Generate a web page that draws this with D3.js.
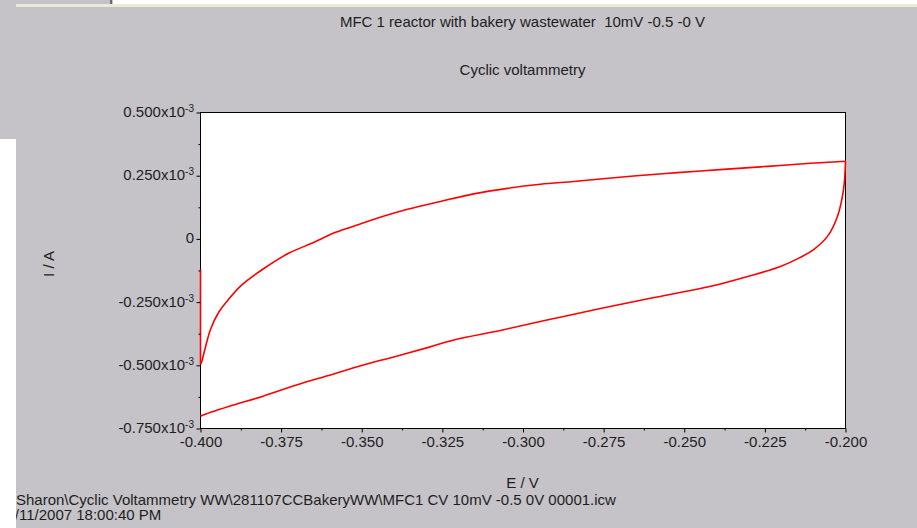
<!DOCTYPE html>
<html>
<head>
<meta charset="utf-8">
<script src="https://cdn.jsdelivr.net/npm/d3@7"></script>
<style>
  html, body { margin: 0; padding: 0; background: #c5c3c8; }
  svg { display: block; font-family: "Liberation Sans", Arial, sans-serif; }
</style>
</head>
<body>
<svg id="chart" width="917" height="528"></svg>
<script>
// ── Data ──────────────────────────────────────────────────────────────────────
const TITLE    = "MFC 1 reactor with bakery wastewater  10mV -0.5 -0 V";
const SUBTITLE = "Cyclic voltammetry";
const X_LABEL  = "E / V";
const Y_LABEL  = "I / A";
const FOOTER_1 = "Sharon\\Cyclic Voltammetry WW\\281107CCBakeryWW\\MFC1 CV 10mV -0.5 0V 00001.icw";
const FOOTER_2 = "28/11/2007 18:00:40 PM";

const X_TICKS = [-0.400, -0.375, -0.350, -0.325, -0.300, -0.275, -0.250, -0.225, -0.200];
const Y_TICKS = [-0.750, -0.500, -0.250, 0, 0.250, 0.500];   // x10^-3 A

// start of scan at -0.4 V (current spike), 10^-3 A
const E_START = [-0.4000, -0.4000, -0.4000];
const I_START = [-0.123, -0.310, -0.498];

// forward scan (-0.4 V -> -0.2 V)
const E_FWD = [-0.4000, -0.3997, -0.3984, -0.3969, -0.3944, -0.3913, -0.3870, -0.3808,
               -0.3727, -0.3653, -0.3581, -0.3519, -0.3464, -0.3358, -0.3256, -0.3153, -0.3048, -0.2946,
               -0.2843, -0.2760, -0.2657, -0.2521, -0.2378, -0.2242, -0.2109, -0.2000];
const I_FWD = [-0.498, -0.490, -0.427, -0.360, -0.293, -0.241, -0.182, -0.123,
               -0.059, -0.018, 0.024, 0.051, 0.075, 0.115, 0.146, 0.176, 0.198, 0.214,
               0.225, 0.235, 0.247, 0.260, 0.273, 0.285, 0.297, 0.305];

// reverse scan (-0.2 V -> -0.4 V)
const E_REV = [-0.2000, -0.2006, -0.2025, -0.2056, -0.2099, -0.2140, -0.2202, -0.2295, -0.2388, -0.2450, -0.2605,
               -0.2760, -0.2915, -0.3070, -0.3209, -0.3293, -0.3395, -0.3498, -0.3603, -0.3705, -0.3808,
               -0.3913, -0.3994, -0.4000];
const I_REV = [0.305, 0.194, 0.087, 0.008, -0.044, -0.075, -0.111, -0.148, -0.180, -0.198, -0.237,
               -0.277, -0.320, -0.364, -0.400, -0.431, -0.467, -0.502, -0.542, -0.581, -0.625,
               -0.665, -0.700, -0.704];

// ── Layout ────────────────────────────────────────────────────────────────────
const plot = { left: 200, right: 845, top: 112, bottom: 428 };
const TEXT = "#1e1e1e";
const FS   = 15;

const svg = d3.select("#chart");

// window chrome bits of the screenshot
svg.append("rect").attr("x", 113).attr("y", 0).attr("width", 804).attr("height", 4).attr("fill", "#fff");
svg.append("rect").attr("x", 110).attr("y", 0).attr("width", 2).attr("height", 4).attr("fill", "#6a6a6a");
svg.append("rect").attr("x", 16).attr("y", 4).attr("width", 901).attr("height", 3).attr("fill", "#ece9d8");
svg.append("rect").attr("x", 0).attr("y", 139).attr("width", 16).attr("height", 389).attr("fill", "#fff");

// ── Scales ────────────────────────────────────────────────────────────────────
const x = d3.scaleLinear().domain([-0.4, -0.2]).range([plot.left, plot.right]);
const y = d3.scaleLinear().domain([-0.75, 0.5]).range([plot.bottom, plot.top]);

// plot frame
svg.append("rect")
  .attr("x", plot.left + 0.5).attr("y", plot.top + 0.5)
  .attr("width", plot.right - plot.left).attr("height", plot.bottom - plot.top)
  .attr("fill", "#fff").attr("stroke", "#000").attr("stroke-width", 1);

// ── Curve ─────────────────────────────────────────────────────────────────────
const zip = (es, is) => es.map((e, i) => [e, is[i]]);
const lineP = d3.line().x(d => x(d[0]) + 0.5).y(d => y(d[1])).curve(d3.curveCatmullRom.alpha(0.5));
[zip(E_START, I_START), zip(E_FWD, I_FWD), zip(E_REV, I_REV)].forEach(seg => {
  svg.append("path")
    .datum(seg)
    .attr("d", lineP)
    .attr("fill", "none").attr("stroke", "#ff0000").attr("stroke-width", 1.6)
    .attr("stroke-linejoin", "round");
});

// ── Axes ──────────────────────────────────────────────────────────────────────
const minorX = d3.range(8).map(i => X_TICKS[i] + 0.0125);
const minorY = d3.range(5).map(i => Y_TICKS[i] + 0.125);

const xAxisG = svg.append("g").attr("transform", `translate(0.5,${plot.bottom + 0.5})`);
xAxisG.call(d3.axisBottom(x).tickValues(X_TICKS).tickSize(4).tickSizeOuter(0).tickFormat(d3.format(".3f")));
xAxisG.selectAll("text")
  .attr("y", 8).attr("dy", "0.71em")
  .attr("fill", TEXT).style("font-size", FS + "px").style("font-family", "Liberation Sans, Arial, sans-serif")
  .text(d => d3.format(".3f")(d).replace("\u2212", "-"));
xAxisG.append("g").call(d3.axisBottom(x).tickValues(minorX).tickSize(2).tickFormat(""));
xAxisG.selectAll(".domain").remove();
xAxisG.selectAll("line").attr("stroke", "#000");

const yAxisG = svg.append("g").attr("transform", `translate(${plot.left + 0.5},0.5)`);
yAxisG.call(d3.axisLeft(y).tickValues(Y_TICKS).tickSize(4).tickSizeOuter(0).tickFormat(""));
yAxisG.append("g").call(d3.axisLeft(y).tickValues(minorY).tickSize(2).tickFormat(""));
yAxisG.selectAll(".domain").remove();
yAxisG.selectAll("line").attr("stroke", "#000");

// y tick labels with x10^-3 superscript
const yLab = svg.append("g")
  .attr("fill", TEXT).style("font-size", FS + "px");
Y_TICKS.forEach(v => {
  const t = yLab.append("text")
    .attr("x", plot.left - 6).attr("y", y(v) + 5)
    .attr("text-anchor", "end");
  if (v === 0) { t.text("0"); return; }
  t.append("tspan").text(d3.format(".3f")(v).replace("\u2212", "-") + "x10");
  t.append("tspan").attr("dy", -5).style("font-size", "10px").text("-3");
});

// ── Titles & labels ───────────────────────────────────────────────────────────
const cx = (plot.left + plot.right) / 2;
svg.append("text").attr("x", cx).attr("y", 27).attr("text-anchor", "middle")
  .style("white-space", "pre")
  .attr("fill", TEXT).style("font-size", FS + "px").text(TITLE);
svg.append("text").attr("x", cx).attr("y", 75).attr("text-anchor", "middle")
  .attr("fill", TEXT).style("font-size", FS + "px").text(SUBTITLE);
svg.append("text").attr("x", cx).attr("y", 488).attr("text-anchor", "middle")
  .attr("fill", TEXT).style("font-size", FS + "px").text(X_LABEL);
svg.append("text")
  .attr("transform", `translate(54,${(plot.top + plot.bottom) / 2 - 6}) rotate(-90)`)
  .attr("text-anchor", "middle")
  .attr("fill", TEXT).style("font-size", FS + "px").text(Y_LABEL);

// footer (left part of the second line is cut by the window edge)
svg.append("clipPath").attr("id", "foot-clip")
  .append("rect").attr("x", 16).attr("y", 480).attr("width", 901).attr("height", 48);
const foot = svg.append("g").attr("clip-path", "url(#foot-clip)")
  .attr("fill", TEXT).style("font-size", FS + "px");
foot.append("text").attr("x", 16).attr("y", 505).text(FOOTER_1);
const f2 = foot.append("text").attr("x", 0).attr("y", 520).text(FOOTER_2);
f2.attr("x", 19 - f2.node().getSubStringLength(0, 3));
</script>
</body>
</html>
